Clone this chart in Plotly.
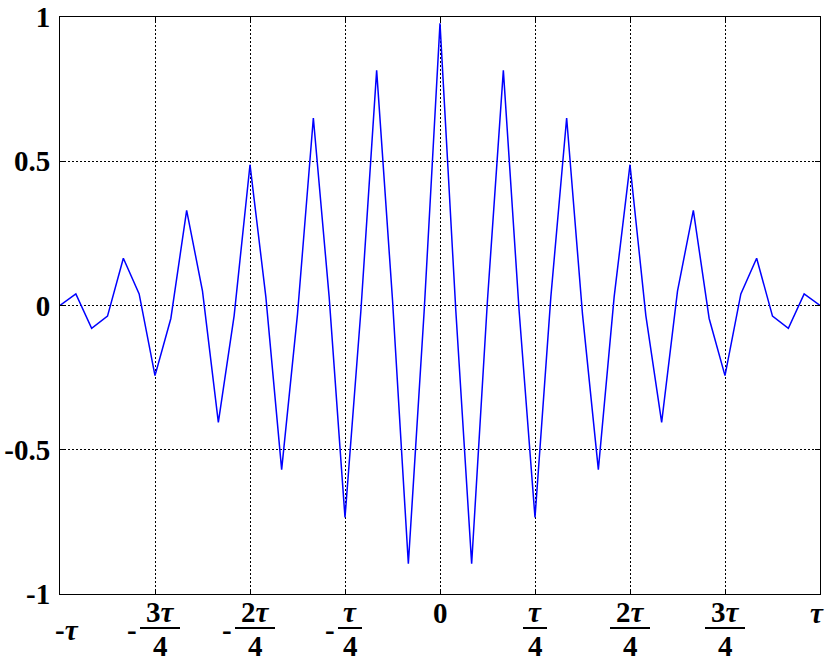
import plotly.graph_objects as go

# ---- data ----
t_values = [-1.0, -0.9583, -0.9167, -0.875, -0.8333, -0.7917, -0.75, -0.7083, -0.6667, -0.625,
            -0.5833, -0.5417, -0.5, -0.4583, -0.4167, -0.375, -0.3333, -0.2917, -0.25, -0.2083,
            -0.1667, -0.125, -0.0833, -0.0417, 0.0, 0.0417, 0.0833, 0.125, 0.1667, 0.2083,
            0.25, 0.2917, 0.3333, 0.375, 0.4167, 0.4583, 0.5, 0.5417, 0.5833, 0.625,
            0.6667, 0.7083, 0.75, 0.7917, 0.8333, 0.875, 0.9167, 0.9583, 1.0]
signal_values = [0.0, 0.04, -0.079, -0.037, 0.164, 0.04, -0.243, -0.045, 0.33, 0.05,
                 -0.405, -0.035, 0.488, 0.03, -0.569, -0.03, 0.65, 0.03, -0.735, -0.02,
                 0.815, 0.02, -0.895, -0.02, 0.978, -0.02, -0.895, 0.02, 0.815, -0.02,
                 -0.735, 0.03, 0.65, -0.03, -0.569, 0.03, 0.488, -0.035, -0.405, 0.05,
                 0.33, -0.045, -0.243, 0.04, 0.164, -0.037, -0.079, 0.04, 0.0]

x_tick_vals = [-1, -0.75, -0.5, -0.25, 0, 0.25, 0.5, 0.75, 1]
x_tick_sign = ["-", "-", "-", "-", "", "", "", "", ""]
x_tick_num = ["τ", "3τ", "2τ", "τ", "0", "τ", "2τ", "3τ", "τ"]
x_tick_den = ["", "4", "4", "4", "", "4", "4", "4", ""]

y_tick_vals = [-1, -0.5, 0, 0.5, 1]
y_tick_text = ["-1", "-0.5", "0", "0.5", "1"]

FONT = "Liberation Serif"
PX_PER_UNIT = 380.0  # horizontal pixels per x unit (plot width 760 / 2)
PLOT_H = 577.0


def fmt(txt):
    return txt.replace("τ", "<i>τ</i>")


fig = go.Figure()
fig.add_trace(go.Scatter(x=t_values, y=signal_values, mode="lines",
                         line=dict(color="#0000ff", width=1.5), showlegend=False))

annotations = []
shapes = []
lab_font = dict(family=FONT, size=29, color="black", weight="bold")
for v, s, n, d in zip(x_tick_vals, x_tick_sign, x_tick_num, x_tick_den):
    if d == "":
        xs = 0
        if v == -1:
            xs = 7
        elif v == 1:
            xs = -3
        annotations.append(dict(x=v, y=0, xref="x", yref="paper", text=s + fmt(n),
                                showarrow=False, xanchor="center", yanchor="middle",
                                xshift=xs, yshift=-36 if s else -19, font=lab_font))
    else:
        w = 40 if len(n) > 1 else 24
        off = 5 if s else 0
        annotations.append(dict(x=v, y=0, xref="x", yref="paper", text=fmt(n),
                                showarrow=False, xanchor="center", yanchor="middle",
                                xshift=off, yshift=-18, font=lab_font))
        annotations.append(dict(x=v, y=0, xref="x", yref="paper", text=d,
                                showarrow=False, xanchor="center", yanchor="middle",
                                xshift=off, yshift=-52, font=lab_font))
        shapes.append(dict(type="line", xref="x", yref="paper",
                           x0=v + (off - w / 2) / PX_PER_UNIT,
                           x1=v + (off + w / 2) / PX_PER_UNIT,
                           y0=-34 / PLOT_H, y1=-34 / PLOT_H,
                           line=dict(color="black", width=2)))
        if s:
            annotations.append(dict(x=v, y=0, xref="x", yref="paper", text=s,
                                    showarrow=False, xanchor="right", yanchor="middle",
                                    xshift=off - w / 2 - 1, yshift=-36, font=lab_font))

axis_common = dict(showline=True, linecolor="black", linewidth=1, mirror="ticks",
                   ticks="inside", ticklen=5, tickcolor="black",
                   showgrid=True, gridcolor="black", gridwidth=1, griddash="2px,2px",
                   zeroline=False, automargin=False)

fig.update_layout(
    width=840, height=666, autosize=False,
    margin=dict(l=60, r=20, t=17, b=72),
    paper_bgcolor="white", plot_bgcolor="white",
    xaxis=dict(range=[-1, 1], tickvals=x_tick_vals, showticklabels=False, **axis_common),
    yaxis=dict(range=[-1, 1], tickvals=y_tick_vals, ticktext=y_tick_text,
               tickfont=dict(family=FONT, size=29, color="black", weight="bold"),
               ticklabelstandoff=3, **axis_common),
    annotations=annotations,
    shapes=shapes,
)

fig.write_html("out.html", config={"displayModeBar": False},
               post_script="document.body.style.margin='0';document.body.style.padding='0';")
